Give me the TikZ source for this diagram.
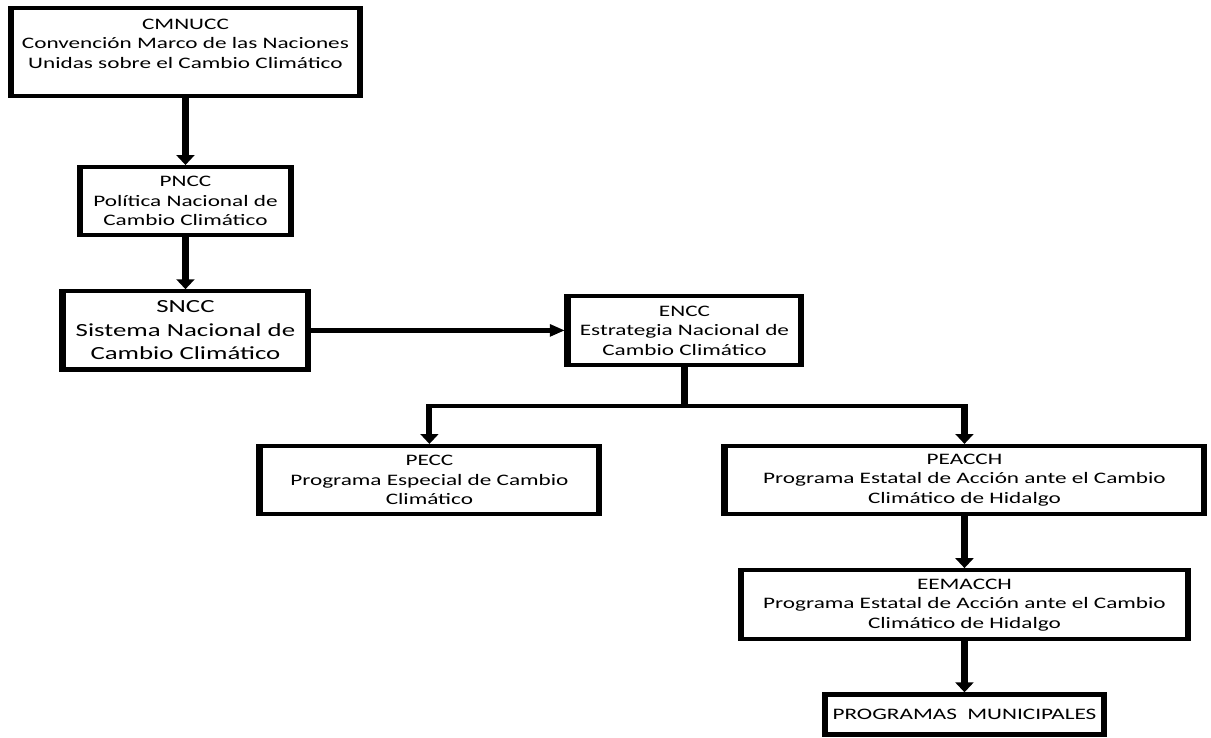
\documentclass[tikz,border=0pt]{standalone}
\usepackage{fontspec}
\setmainfont{Carlito}
\usetikzlibrary{positioning,arrows.meta}

\begin{document}
\begin{tikzpicture}[
  box/.style={draw, line width=4.2pt, align=center, inner sep=2pt,
    font=\fontsize{16}{19.5}\selectfont},
  link/.style={line width=4.2pt},
  arrow/.style={link, -{Triangle[length=10pt,width=12pt]}}
]
\path[use as bounding box, fill=white] (0,0) rectangle (1211pt,-738pt);
% the whole chart is stretched sideways, text and lines too
\begin{scope}[transform canvas={xscale=1.45}]
\node[box, minimum width=240.6pt, minimum height=88pt, text depth=17pt](cmnucc) at (127.9pt,-52pt){CMNUCC\\Convención Marco de las Naciones\\Unidas sobre el Cambio Climático};
\node[box, minimum width=145.5pt, minimum height=68pt](pncc)[below = 67pt of cmnucc]{PNCC\\Política Nacional de\\Cambio Climático};
\node[box, minimum width=169.6pt, minimum height=78pt, font=\fontsize{18.5}{23.5}\selectfont](sncc)[below = 52pt of pncc]{SNCC\\Sistema Nacional de\\Cambio Climático};
\node[box, minimum width=161.3pt, minimum height=69pt](encc)[right = 174.5pt of sncc]{ENCC\\Estrategia Nacional de\\Cambio Climático};
\coordinate(split) at ([yshift=-39pt]encc.south);
\node[box, minimum width=234.4pt, minimum height=68pt](pecc)[below = 77pt of encc, xshift=-175.9pt]{PECC\\Programa Especial de Cambio\\Climático};
\node[box, minimum width=331pt, minimum height=68pt](peacch)[below = 77pt of encc, xshift=193.1pt]{PEACCH\\Programa Estatal de Acción ante el Cambio\\Climático de Hidalgo};
\node[box, minimum width=308.2pt, minimum height=69pt](eemacch)[below = 52pt of peacch]{EEMACCH\\Programa Estatal de Acción ante el Cambio\\Climático de Hidalgo};
\node[box, minimum width=193pt, minimum height=40pt](pm)[below = 51pt of eemacch]{PROGRAMAS\ \ MUNICIPALES};

\path[arrow]
	(cmnucc) edge (pncc)
	(pncc) edge (sncc)
	(peacch) edge (eemacch)
	(eemacch) edge (pm);
\draw[arrow] (sncc.east) -- (sncc.east -| encc.west);
\draw[link] (encc) -- (split);
\draw[arrow] (split) -| (pecc);
\draw[arrow] (split) -| (peacch);
\end{scope}
\end{tikzpicture}
\end{document}
